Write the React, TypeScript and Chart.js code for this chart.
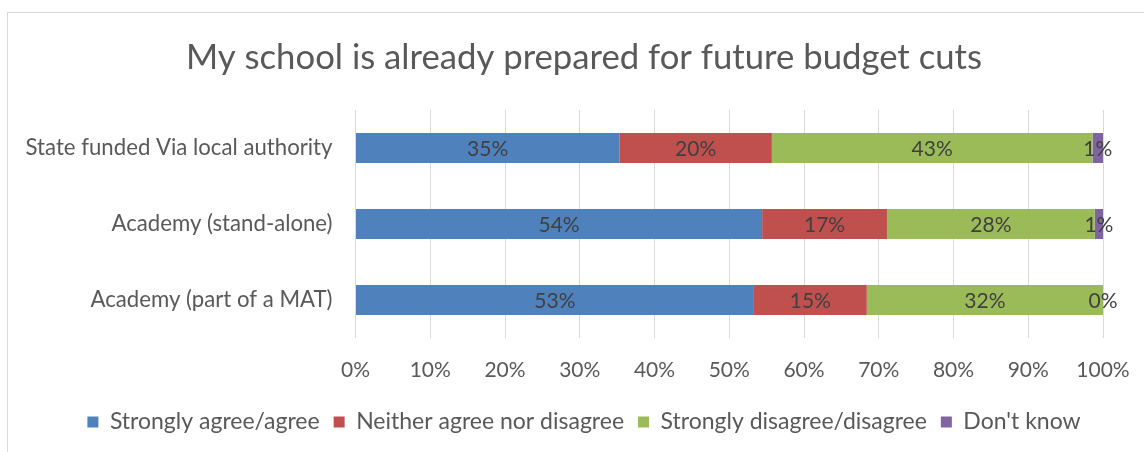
import React, { useEffect, useRef } from "react";
import { Chart, registerables } from "chart.js";

Chart.register(...registerables);

const categories = [
  "State funded Via local authority",
  "Academy (stand-alone)",
  "Academy (part of a MAT)",
];
const seriesNames = [
  "Strongly agree/agree",
  "Neither agree nor disagree",
  "Strongly disagree/disagree",
  "Don't know",
];
const agree = [35.3, 54.4, 53.3];
const neither = [20.4, 16.7, 15.1];
const disagree = [42.9, 27.8, 31.6];
const dontKnow = [1.4, 1.1, 0];
const seriesColors = ["#4F81BD", "#C0504D", "#9BBB59", "#8064A2"];
const xTicks = [0, 10, 20, 30, 40, 50, 60, 70, 80, 90, 100];

const FONT = "Lato, 'Open Sans', sans-serif";
const TEXT = "#595959";

const framePlugin = {
  id: "frame",
  beforeDraw(chart: any) {
    const ctx = chart.ctx;
    ctx.save();
    ctx.fillStyle = "#ffffff";
    ctx.fillRect(0, 0, chart.width, chart.height);
    ctx.strokeStyle = "#d9d9d9";
    ctx.lineWidth = 1;
    ctx.strokeRect(7.5, 12.5, 1400, 1000);
    ctx.restore();
  },
};

const segLabelPlugin = {
  id: "segLabels",
  afterDatasetsDraw(chart: any) {
    const ctx = chart.ctx;
    ctx.save();
    ctx.font = `21px ${FONT}`;
    ctx.fillStyle = "#404040";
    ctx.textAlign = "center";
    ctx.textBaseline = "middle";
    chart.data.datasets.forEach((ds: any, i: number) => {
      const meta = chart.getDatasetMeta(i);
      meta.data.forEach((el: any, j: number) => {
        const p = el.getCenterPoint();
        ctx.fillText(Math.round(ds.data[j]) + "%", p.x, p.y + 1);
      });
    });
    ctx.restore();
  },
};

export default function App() {
  const ref = useRef<HTMLCanvasElement | null>(null);
  useEffect(() => {
    if (!ref.current) return;
    const values = [agree, neither, disagree, dontKnow];
    const chart = new Chart(ref.current, {
      type: "bar",
      data: {
        labels: categories,
        datasets: seriesNames.map((name, i) => ({
          label: name,
          data: values[i],
          backgroundColor: seriesColors[i],
          borderWidth: 0,
          barPercentage: 0.395,
          categoryPercentage: 1,
        })),
      },
      options: {
        indexAxis: "y",
        responsive: false,
        animation: false,
        devicePixelRatio: 1,
        layout: { padding: { left: 24, right: 0, top: 0, bottom: 8.5 } },
        plugins: {
          title: {
            display: true,
            text: "My school is already prepared for future budget cuts",
            color: TEXT,
            font: { family: FONT, size: 34.7, weight: "normal" },
            padding: { top: 36.8, bottom: 31.7 },
          },
          legend: {
            position: "bottom",
            labels: {
              color: TEXT,
              font: { family: FONT, size: 23 },
              boxWidth: 11,
              boxHeight: 11,
              padding: 14,
            },
          },
          tooltip: { enabled: false },
        },
        scales: {
          x: {
            stacked: true,
            min: 0,
            max: 100,
            afterBuildTicks(scale: any) {
              scale.ticks = xTicks.map((v) => ({ value: v }));
            },
            afterFit(scale: any) {
              scale.height = 58.5;
            },
            ticks: {
              color: TEXT,
              font: { family: FONT, size: 21 },
              padding: 0,
              callback: (v: any) => v + "%",
            },
            grid: {
              color: "#d9d9d9",
              lineWidth: 1,
              drawTicks: true,
              tickLength: 19.4,
              tickColor: "rgba(0,0,0,0)",
            },
            border: { display: false },
          },
          y: {
            stacked: true,
            afterFit(scale: any) {
              scale.width = 331.5;
            },
            ticks: {
              color: TEXT,
              font: { family: FONT, size: 22.2 },
              padding: 23,
            },
            grid: { display: false, drawTicks: false },
            border: { display: false },
          },
          yRight: {
            type: "category",
            axis: "y",
            position: "right",
            afterFit(scale: any) {
              scale.width = 41;
            },
            ticks: { display: false },
            grid: { display: false, drawTicks: false },
            border: { display: false },
          },
        },
      },
      plugins: [framePlugin, segLabelPlugin],
    });
    return () => chart.destroy();
  }, []);
  return (
    <div style={{ position: "fixed", left: 0, top: 0, width: 1144, height: 452 }}>
      <canvas ref={ref} width={1144} height={452} />
    </div>
  );
}
